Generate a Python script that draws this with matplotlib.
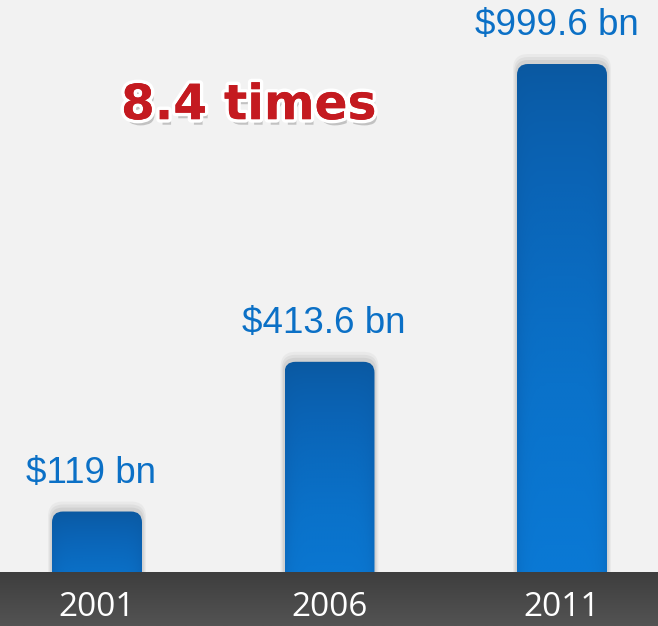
import matplotlib
matplotlib.use("Agg")
import matplotlib.pyplot as plt
import matplotlib.patheffects as pe
from matplotlib.patches import FancyBboxPatch
from matplotlib.colors import LinearSegmentedColormap
import numpy as np

years = ["2001", "2006", "2011"]
values = [119, 413.6, 999.6]
labels = ["$119 bn", "$413.6 bn", "$999.6 bn"]
note = "8.4 times"

W, H = 658, 626
PX_PER_UNIT_Y = 508 / 999.6   # pixels per data unit in y
PX_PER_UNIT_X = 232.5         # pixels per category step
BAND_PX = 54

fig = plt.figure(figsize=(W / 100, H / 100), dpi=100)
fig.patch.set_facecolor("#f2f2f2")
ax = fig.add_axes([0, 0, 1, 1])
ax.set_facecolor("#f2f2f2")
ax.set_axis_off()

y_lo = -BAND_PX / PX_PER_UNIT_Y
y_hi = H / PX_PER_UNIT_Y + y_lo
x_lo = -97 / PX_PER_UNIT_X
x_hi = x_lo + W / PX_PER_UNIT_X

x = np.arange(len(years))
width = 90 / PX_PER_UNIT_X
bars = ax.bar(x, values, width=width, color="none", edgecolor="none")

radius = 11 / PX_PER_UNIT_X
aspect = (1 / PX_PER_UNIT_Y) / (1 / PX_PER_UNIT_X)

blue = LinearSegmentedColormap.from_list(
    "bluebar", ["#0b58a0", "#0a64b6", "#0a72ca", "#0a7bd8"])

for rect in bars:
    bx, bw, bh = rect.get_x(), rect.get_width(), rect.get_height()
    bottom = y_lo - 20
    # soft shadow, mostly above the top
    for k, a in zip([10, 7, 4], [0.05, 0.07, 0.09]):
        dx = 0.4 * k / PX_PER_UNIT_X
        dy = k / PX_PER_UNIT_Y
        sh = FancyBboxPatch((bx - dx, bottom), bw + 2 * dx, bh - bottom + dy,
                            boxstyle=f"round,pad=0,rounding_size={radius + dx}",
                            mutation_aspect=aspect, facecolor="#555555",
                            edgecolor="none", alpha=a, zorder=1)
        ax.add_patch(sh)
    patch = FancyBboxPatch((bx, bottom), bw, bh - bottom,
                           boxstyle=f"round,pad=0,rounding_size={radius}",
                           mutation_aspect=aspect, facecolor="none",
                           edgecolor="none", zorder=2)
    ax.add_patch(patch)
    ny, nx = 200, 60
    vert = np.linspace(0, 1, ny)[:, None] ** 0.7
    horiz = 1 - 0.35 * (np.abs(np.linspace(-1, 1, nx)) ** 6)[None, :]
    grad = vert * horiz
    im = ax.imshow(grad, cmap=blue, vmin=0, vmax=1, aspect="auto",
                   extent=(bx, bx + bw, bottom, bh), zorder=2,
                   interpolation="bilinear")
    im.set_clip_path(patch)

# dark band at the bottom
band_grad = np.linspace(0, 1, 50)[:, None]
band_cmap = LinearSegmentedColormap.from_list("band", ["#3e3e3e", "#535353"])
ax.imshow(band_grad, cmap=band_cmap, aspect="auto",
          extent=(x_lo, x_hi, y_lo, 0), zorder=5)
ax.set_xlim(x_lo, x_hi)
ax.set_ylim(y_lo, y_hi)

for xi, yr in zip(x, years):
    ax.text(xi, -35 / PX_PER_UNIT_Y, yr, ha="center", va="center",
            color="white", fontsize=24, family="Open Sans", zorder=6)

for rect, lab in zip(bars, labels):
    ax.annotate(lab, (rect.get_x() + rect.get_width() / 2, rect.get_height()),
                xytext=(-4, 15), textcoords="offset points", ha="center",
                va="bottom", color="#0b70c6", fontsize=26.5,
                family="Liberation Sans", zorder=6)

ax.text(0.378, 0.832, note, transform=ax.transAxes, ha="center", va="center",
        fontsize=35, fontweight="bold", family="DejaVu Sans", color="#c41a20",
        zorder=6,
        path_effects=[pe.SimplePatchShadow(offset=(2, -4), shadow_rgbFace="#888888", alpha=0.45),
                      pe.withStroke(linewidth=5, foreground="white"),
                      pe.Normal()])

fig.savefig("out.png", dpi=100, facecolor=fig.get_facecolor())
